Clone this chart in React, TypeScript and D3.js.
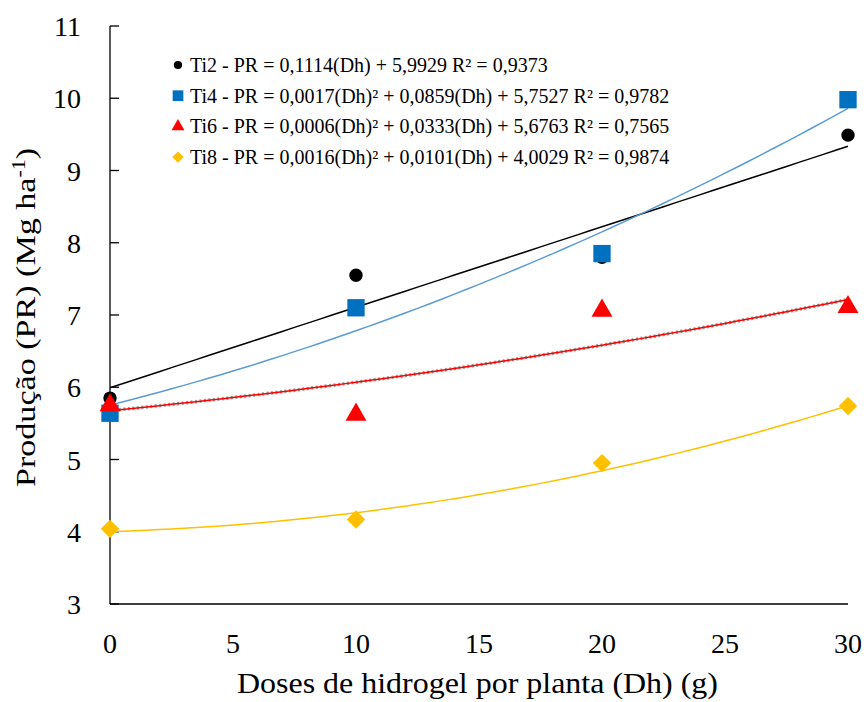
import React, { useEffect, useRef } from 'react'
import * as d3 from 'd3'

const doses = [0, 10, 20, 30]
const ti2 = [5.85, 7.55, 7.8, 9.49]
const ti4 = [5.64, 7.1, 7.85, 9.98]
const ti6 = [5.75, 5.62, 7.06, 7.11]
const ti8 = [4.04, 4.17, 4.95, 5.74]

// trendline coefficients [a (Dh²), b (Dh), c]
const coef2 = [0, 0.1114, 5.9929]
const coef4 = [0.0017, 0.0859, 5.7527]
const coef6 = [0.0006, 0.0333, 5.6763]
const coef8 = [0.0016, 0.0101, 4.0029]

const legendLabels = [
  'Ti2 - PR = 0,1114(Dh) + 5,9929 R² = 0,9373',
  'Ti4 - PR = 0,0017(Dh)² + 0,0859(Dh) + 5,7527 R² = 0,9782',
  'Ti6 - PR = 0,0006(Dh)² + 0,0333(Dh) + 5,6763 R² = 0,7565',
  'Ti8 - PR = 0,0016(Dh)² + 0,0101(Dh) + 4,0029 R² = 0,9874',
]

const xTicks = [0, 5, 10, 15, 20, 25, 30]
const yTicks = [3, 4, 5, 6, 7, 8, 9, 10, 11]

export default function App() {
  const svgRef = useRef<SVGSVGElement>(null)

  useEffect(() => {
    const svg = d3.select(svgRef.current)
    svg.selectAll('*').remove()

    const x = d3.scaleLinear().domain([0, 30]).range([110, 848])
    const y = d3.scaleLinear().domain([3, 11]).range([604, 26])

    const series = [
      { vals: ti2, coef: coef2, marker: 'circle', fill: '#000000', line: '#000000' },
      { vals: ti4, coef: coef4, marker: 'square', fill: '#0070C0', line: '#5B9BD5' },
      { vals: ti6, coef: coef6, marker: 'triangle', fill: '#FF0000', line: '#FF0000' },
      { vals: ti8, coef: coef8, marker: 'diamond', fill: '#FFC000', line: '#FFC000' },
    ]

    const symbolFor = (m: string, scale = 1) => {
      const map: Record<string, [d3.SymbolType, number]> = {
        circle: [d3.symbolCircle, 140],
        square: [d3.symbolSquare, 300],
        triangle: [d3.symbolTriangle, 190],
        diamond: [d3.symbolSquare, 170],
      }
      const [t, s] = map[m]
      return d3.symbol().type(t).size(s * scale)()
    }
    const rot = (m: string) => (m === 'diamond' ? ' rotate(45)' : '')

    // axes
    svg.append('line')
      .attr('x1', x(0)).attr('x2', x(0))
      .attr('y1', y(11)).attr('y2', y(3))
      .attr('stroke', '#000').attr('stroke-width', 1.3)
    svg.append('line')
      .attr('x1', x(0)).attr('x2', x(30))
      .attr('y1', y(3)).attr('y2', y(3))
      .attr('stroke', '#000').attr('stroke-width', 1.3)

    svg.selectAll('line.ytick')
      .data(yTicks)
      .join('line')
      .attr('class', 'ytick')
      .attr('x1', x(0)).attr('x2', x(0) + 9)
      .attr('y1', (d) => y(d)).attr('y2', (d) => y(d))
      .attr('stroke', '#000').attr('stroke-width', 1.3)

    svg.selectAll('text.ylab')
      .data(yTicks)
      .join('text')
      .attr('class', 'ylab')
      .attr('x', 81)
      .attr('y', (d) => y(d) + 10)
      .attr('text-anchor', 'end')
      .attr('font-size', 28)
      .text((d) => d)

    svg.selectAll('text.xlab')
      .data(xTicks)
      .join('text')
      .attr('class', 'xlab')
      .attr('x', (d) => x(d))
      .attr('y', 653)
      .attr('text-anchor', 'middle')
      .attr('font-size', 28)
      .text((d) => d)

    svg.append('text')
      .attr('x', 237)
      .attr('y', 693)
      .attr('font-size', 30)
      .attr('textLength', 481)
      .attr('lengthAdjust', 'spacingAndGlyphs')
      .text('Doses de hidrogel por planta (Dh) (g)')

    const yl = svg.append('text')
      .attr('transform', 'translate(35,487) rotate(-90)')
      .attr('font-size', 28)
      .attr('textLength', 339)
      .attr('lengthAdjust', 'spacingAndGlyphs')
    yl.append('tspan').text('Produção (PR) (Mg ha')
    yl.append('tspan').attr('dy', -10).attr('font-size', 18).text('-1')
    yl.append('tspan').attr('dy', 10).text(')')

    // trendlines
    const grid = d3.range(0, 30.001, 0.5)
    const line = d3.line<number>().x((d) => x(d))
    series.forEach((s, i) => {
      const [a, b, c] = s.coef
      const ln = line.y((d) => y(a * d * d + b * d + c))
      if (i === 2) {
        svg.append('path')
          .attr('d', ln(grid))
          .attr('fill', 'none')
          .attr('stroke', '#9a9a9a')
          .attr('stroke-width', 3.5)
          .attr('stroke-dasharray', '2 2.5')
      }
      svg.append('path')
        .attr('d', ln(grid))
        .attr('fill', 'none')
        .attr('stroke', s.line)
        .attr('stroke-width', 1.5)
    })

    // markers
    series.forEach((s) => {
      svg.append('g')
        .selectAll('path')
        .data(s.vals)
        .join('path')
        .attr('transform', (d, j) => `translate(${x(doses[j])},${y(d)})${rot(s.marker)}`)
        .attr('d', symbolFor(s.marker))
        .attr('fill', s.fill)
    })

    // legend
    const lg = svg.append('g')
    legendLabels.forEach((lab, i) => {
      const cy = 65 + i * 30.7
      lg.append('path')
        .attr('transform', `translate(178,${cy})${rot(series[i].marker)}`)
        .attr('d', symbolFor(series[i].marker, 0.38))
        .attr('fill', series[i].fill)
      lg.append('text')
        .attr('x', 190)
        .attr('y', cy + 7)
        .attr('font-size', 20)
        .text(lab)
    })
  }, [])

  return (
    <svg
      ref={svgRef}
      width={868}
      height={702}
      fontFamily="Liberation Serif"
      style={{ position: 'absolute', left: 0, top: 0, background: '#fff', fontFamily: 'Liberation Serif' }}
    />
  )
}
